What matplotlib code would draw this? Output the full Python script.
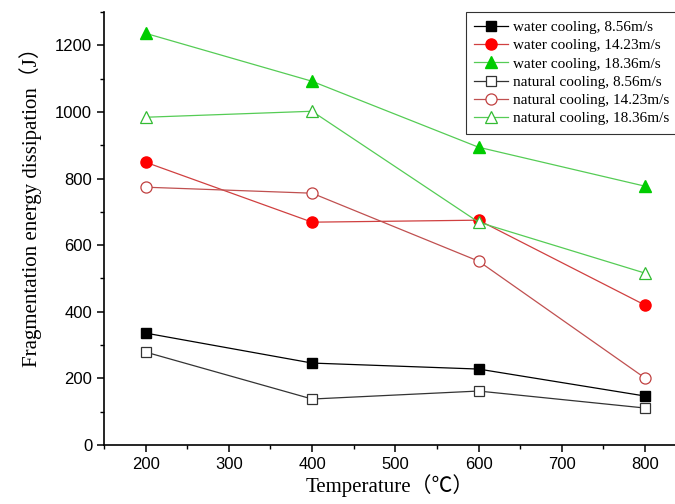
import matplotlib
matplotlib.use("Agg")
import matplotlib.pyplot as plt
from matplotlib.ticker import MultipleLocator

temps = [200, 400, 600, 800]
water_856 = [336, 246, 228, 147]
water_1423 = [849, 669, 675, 420]
water_1836 = [1236, 1092, 894, 777]
natural_856 = [279, 138, 162, 111]
natural_1423 = [774, 756, 552, 201]
natural_1836 = [984, 1002, 669, 516]

labels = ["water cooling, 8.56m/s", "water cooling, 14.23m/s", "water cooling, 18.36m/s",
          "natural cooling, 8.56m/s", "natural cooling, 14.23m/s", "natural cooling, 18.36m/s"]

serif = ["Liberation Serif", "Noto Sans CJK SC", "DejaVu Serif"]
sans = ["Liberation Sans", "DejaVu Sans"]

fig = plt.figure(figsize=(6.75, 5.04), dpi=100)
ax = fig.add_axes([104/675, 59/504, 1 - 104/675, (445-12)/504])

black = "#000000"
red = "#ff0000"
green = "#00cc00"
lw = 0.9
ms = 8

ax.plot(temps, water_856, color=black, lw=lw, marker="s", ms=ms-1, mfc=black, mec=black, label=labels[0])
ax.plot(temps, water_1423, color="#d04040", lw=lw, marker="o", ms=ms, mfc=red, mec=red, label=labels[1])
ax.plot(temps, water_1836, color="#55cc55", lw=lw, marker="^", ms=ms+1, mfc=green, mec=green, label=labels[2])
ax.plot(temps, natural_856, color="#333333", lw=lw, marker="s", ms=ms-1, mfc="white", mec="#333333", mew=0.9, label=labels[3])
ax.plot(temps, natural_1423, color="#c05050", lw=lw, marker="o", ms=ms, mfc="white", mec="#c04040", mew=0.9, label=labels[4])
ax.plot(temps, natural_1836, color="#55cc55", lw=lw, marker="^", ms=ms+1, mfc="white", mec="#33bb33", mew=0.9, label=labels[5])

ax.set_xlim(150, 836)
ax.set_ylim(0, 1300)
ax.xaxis.set_major_locator(MultipleLocator(100))
ax.xaxis.set_minor_locator(MultipleLocator(50))
ax.yaxis.set_major_locator(MultipleLocator(200))
ax.yaxis.set_minor_locator(MultipleLocator(100))
ax.spines["top"].set_visible(False)
ax.spines["right"].set_visible(False)
ax.spines["left"].set_linewidth(1.2)
ax.spines["bottom"].set_linewidth(1.2)
ax.tick_params(which="major", direction="out", length=5, width=1.1, labelsize=12)
ax.tick_params(which="minor", direction="out", length=3, width=1.0)
for t in ax.get_xticklabels() + ax.get_yticklabels():
    t.set_family(sans)

ax.set_xlabel("Temperature（℃）", family=serif, fontsize=15, labelpad=2)
ax.set_ylabel("Fragmentation energy dissipation（J）", family=serif, fontsize=15)
ax.yaxis.set_label_coords(-0.108, 0.56)

leg = ax.legend(loc="upper left", bbox_to_anchor=((466-104)/(675-104), 1.0),
                prop={"family": serif, "size": 11}, frameon=True, fancybox=False,
                edgecolor="black", borderpad=0.55, labelspacing=0.3, handlelength=2.2,
                handletextpad=0.3, borderaxespad=0)
leg.get_frame().set_linewidth(0.8)

fig.savefig("out.png", dpi=100)
